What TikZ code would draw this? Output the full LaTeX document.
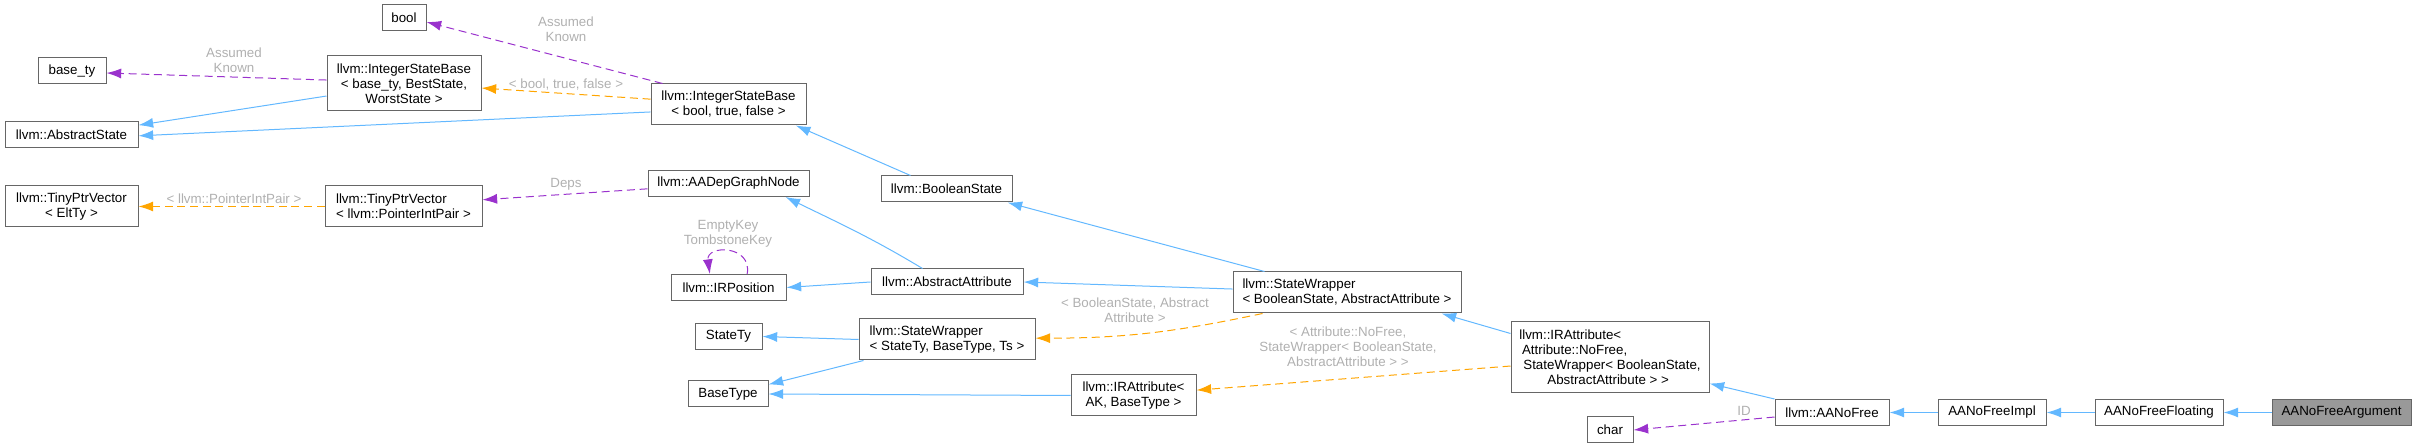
\documentclass[tikz,border=0pt]{standalone}
\usepackage{fontspec}
\setsansfont{Liberation Sans}
\usepackage{xcolor}
\definecolor{InheritBlue}{HTML}{63B8FF}
\definecolor{UsagePurple}{HTML}{9A32CD}
\definecolor{TemplOrange}{HTML}{FFA500}
\definecolor{NoteGray}{HTML}{B0B0B0}
\definecolor{BoxGray}{HTML}{666666}
\definecolor{FocusGray}{HTML}{999999}
\usetikzlibrary{arrows.meta,calc}

\begin{document}
\begin{tikzpicture}[
  x=0.75pt,y=-0.75pt,
  font=\sffamily\fontsize{10}{11.25}\selectfont,
  wire/.style={line width=.75pt,-{Latex[length=11pt,width=7.5pt]}},
  inherit/.style={wire,draw=InheritBlue},
  usage/.style={wire,draw=UsagePurple,dash pattern=on 6pt off 3.5pt},
  template/.style={wire,draw=TemplOrange,dash pattern=on 6pt off 3.5pt},
  tipnote/.style={text=NoteGray,align=center,inner sep=0pt},
  cls/.style={draw=BoxGray,line width=.75pt,fill=white,inner sep=2pt,minimum height=19.5pt},
  cls2/.style={cls,minimum height=30.75pt}
]
\useasboundingbox (0,0) rectangle (2417,448);
\node[cls,minimum width=33pt] (boolty) at (404,18) {bool};
\node[cls,minimum width=51pt] (basety) at (72,71) {base\_ty};
\node[cls,minimum width=115.5pt,minimum height=41.25pt,align=center] (isbbase) at (404,83.5) {llvm::IntegerStateBase\\< base\_ty, BestState,\\WorstState >};
\node[cls,minimum width=99.75pt] (abstractstate) at (71.5,134.5) {llvm::AbstractState};
\node[cls2,minimum width=116.25pt,align=center] (isbbool) at (728.5,104.5) {llvm::IntegerStateBase\\< bool, true, false >};
\node[cls2,minimum width=99.75pt,align=center] (tpvelt) at (71.5,206.5) {llvm::TinyPtrVector\\< EltTy >};
\node[cls2,minimum width=117.75pt,align=left] (tpvpip) at (403.5,206.5) {llvm::TinyPtrVector\\< llvm::PointerIntPair >};
\node[cls,minimum width=120.75pt] (depnode) at (728.5,183.5) {llvm::AADepGraphNode};
\node[cls,minimum width=98.25pt] (boolstate) at (946.5,189) {llvm::BooleanState};
\node[cls,minimum width=86.25pt] (irpos) at (728.5,287.5) {llvm::IRPosition};
\node[cls,minimum width=114pt] (absattr) at (947,282) {llvm::AbstractAttribute};
\node[cls2,minimum width=171pt,align=left] (swbool) at (1347,292.5) {llvm::StateWrapper\\< BooleanState, AbstractAttribute >};
\node[cls,minimum width=50.25pt] (statety) at (728.5,336.5) {StateTy};
\node[cls2,minimum width=132pt,align=left] (swstate) at (947,339.5) {llvm::StateWrapper\\< StateTy, BaseType, Ts >};
\node[cls,minimum width=60pt] (basetype) at (728,394) {BaseType};
\node[cls2,minimum width=93.75pt,align=center] (iraak) at (1133.5,395.5) {llvm::IRAttribute<\\AK, BaseType >};
\node[cls,minimum width=148.5pt,minimum height=53.25pt,align=left] (iranofree) at (1610,357.5) {llvm::IRAttribute<\\\hspace*{2pt}Attribute::NoFree,\\\hspace*{3pt}StateWrapper< BooleanState,\\\hspace*{21pt}AbstractAttribute > >};
\node[cls,minimum width=34.5pt] (charty) at (1610,430) {char};
\node[cls,minimum width=85.5pt] (aanofree) at (1832,412.5) {llvm::AANoFree};
\node[cls,minimum width=81pt] (aanofreeimpl) at (1992,412.5) {AANoFreeImpl};
\node[cls,minimum width=96pt] (aanofreefloating) at (2159,412.5) {AANoFreeFloating};
\node[cls,minimum width=104.25pt,fill=FocusGray] (aanofreearg) at (2341.5,412.5) {AANoFreeArgument};
\node[tipnote] (knownbool) at (566,29.5) {Assumed\\Known};
\node[tipnote] (knownbase) at (234,60.5) {Assumed\\Known};
\node[tipnote] (argsbool) at (566,85) {< bool, true, false >};
\node[tipnote] (argspair) at (234,199) {< llvm::PointerIntPair >};
\node[tipnote] (depslabel) at (566,184) {Deps};
\node[tipnote] (keyslabel) at (728,234) {EmptyKey\\TombstoneKey};
\node[tipnote] (argsstate) at (1135,310.5) {< BooleanState, Abstract\\Attribute >};
\node[tipnote] (argsnofree) at (1348,347) {< Attribute::NoFree,\\StateWrapper< BooleanState,\\AbstractAttribute > >};
\node[tipnote] (idlabel) at (1744,411) {ID};
\draw[inherit] ([yshift=-9.4pt]isbbase.west) -- ([yshift=7pt]abstractstate.east);
\draw[inherit] ([yshift=-5.6pt]isbbool.west) -- ([yshift=-1pt]abstractstate.east);
\draw[usage] ([xshift=9pt]isbbool.north west) -- ([yshift=-3pt]boolty.east);
\draw[template] ([yshift=4pt]isbbool.west) -- ([yshift=-3.4pt]isbbase.east);
\draw[usage] ([yshift=2.6pt]isbbase.west) -- ([yshift=-1.5pt]basety.east);
\draw[template] (tpvpip.west) -- (tpvelt.east);
\draw[usage] ([yshift=-4pt]depnode.west) -- ([yshift=5pt]tpvpip.east);
\draw[inherit] ([xshift=22.5pt]boolstate.north west) -- ([xshift=-8pt]isbbool.south east);
\draw[inherit] ([xshift=39pt]absattr.north west) to[out=149,in=-26] ([xshift=-18pt]depnode.south east);
\draw[inherit] (absattr.west) -- (irpos.east);
\draw[usage] ([xshift=14pt]irpos.north) .. controls ([xshift=18pt,yshift=22pt]irpos.north) and ([xshift=-17pt,yshift=22pt]irpos.north) .. ([xshift=-14pt]irpos.north);
\draw[inherit] ([xshift=24pt]swbool.north west) -- ([xshift=-3.75pt]boolstate.south east);
\draw[inherit] ([yshift=2.6pt]swbool.west) -- (absattr.east);
\draw[template] ([xshift=22.5pt]swbool.south west) to[out=192,in=0] ([yshift=1pt]swstate.east);
\draw[inherit] (swstate.west) -- (statety.east);
\draw[inherit] ([xshift=3.75pt]swstate.south west) -- ([yshift=-3pt]basetype.north east);
\draw[inherit] (iraak.west) -- (basetype.east);
\draw[inherit] ([yshift=-9pt]iranofree.north west) -- ([xshift=-15pt]swbool.south east);
\draw[template] ([yshift=-6.4pt]iranofree.west) -- ([yshift=4pt]iraak.east);
\draw[inherit] (aanofree.north west) -- ([yshift=7.5pt]iranofree.south east);
\draw[usage] ([yshift=-3.4pt]aanofree.west) -- (charty.east);
\draw[inherit] (aanofreeimpl.west) -- (aanofree.east);
\draw[inherit] (aanofreefloating.west) -- (aanofreeimpl.east);
\draw[inherit] (aanofreearg.west) -- (aanofreefloating.east);
\end{tikzpicture}
\end{document}
